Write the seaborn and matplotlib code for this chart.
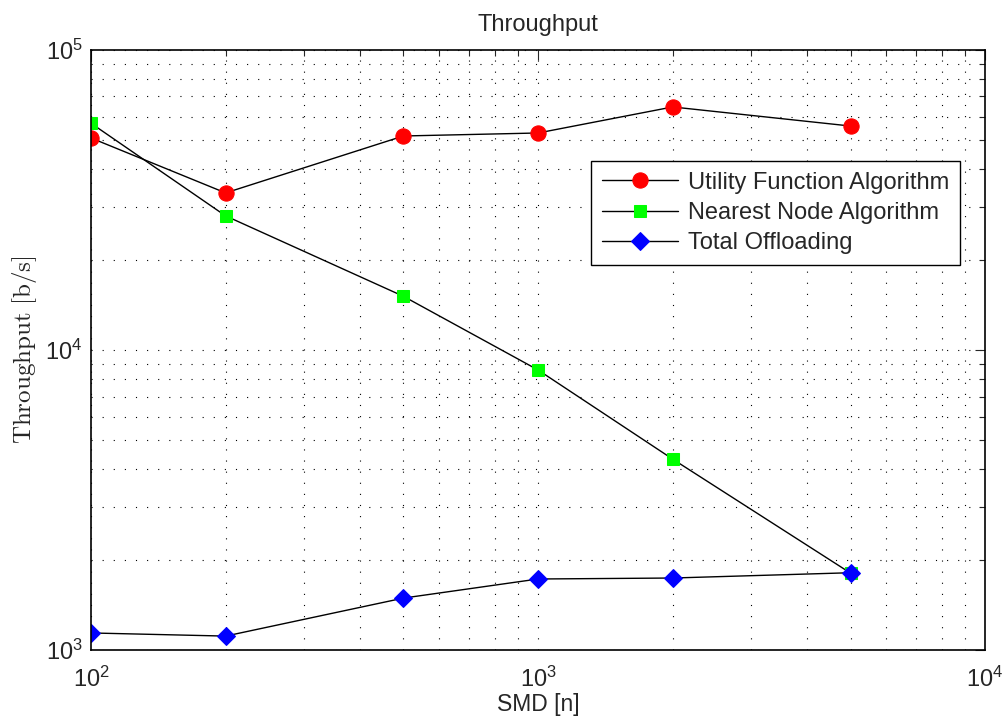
import matplotlib
matplotlib.use("Agg")
import matplotlib.pyplot as plt
import seaborn as sns
import pandas as pd

# Данные
smd = [100, 200, 500, 1000, 2000, 5000]
utility = [50900, 33400, 51700, 52900, 64600, 55800]
nearest = [57000, 28000, 15100, 8580, 4330, 1805]
total = [1140, 1113, 1490, 1725, 1738, 1810]

labels = ["Utility Function Algorithm", "Nearest Node Algorithm", "Total Offloading"]
colors = ["#ff0000", "#00ff00", "#0000ff"]
markers = ["o", "s", "D"]
sizes = [11, 8, 9]

sns.set_style("white")
plt.rcParams['font.family'] = ['Liberation Sans', 'DejaVu Sans']
plt.rcParams['mathtext.fontset'] = 'custom'
plt.rcParams['mathtext.rm'] = 'Liberation Sans'

fig = plt.figure(figsize=(10.06, 7.25), dpi=100)
ax = fig.add_axes([0.0905, 0.1034, 0.8887, 0.8276])

for vals, lab, col, mk, ms in zip([utility, nearest, total], labels, colors, markers, sizes):
    df = pd.DataFrame({"smd": smd, "thr": vals})
    sns.lineplot(data=df, x="smd", y="thr", ax=ax, color="black", linewidth=1.0,
                 marker=mk, markersize=ms, markerfacecolor=col, markeredgecolor=col,
                 label=lab)

ax.set_xscale("log")
ax.set_yscale("log")
ax.set_xlim(1e2, 1e4)
ax.set_ylim(1e3, 1e5)

ax.grid(True, which="both", color="black", linestyle=(0, (1, 9)), linewidth=0.8)
ax.tick_params(which="both", direction="in", top=True, right=True, labelsize=17)
ax.tick_params(axis="x", pad=12)
ax.tick_params(axis="y", pad=6)
ax.tick_params(which="major", length=7, width=0.8)
ax.tick_params(which="minor", length=4, width=0.8)
for sp in ax.spines.values():
    sp.set_color("black")
    sp.set_linewidth(1.2)

ax.set_title("Throughput", fontsize=17, pad=14)
ax.set_xlabel("SMD [n]", fontsize=16.5, labelpad=1)
ax.set_ylabel(r"$\mathrm{Throughput\ [b/s]}$", fontsize=18, math_fontfamily="cm", labelpad=5)

leg = ax.legend(loc="upper right", bbox_to_anchor=(0.972, 0.815), borderaxespad=0,
                fontsize=17, frameon=True, fancybox=False, edgecolor="black",
                framealpha=1, handlelength=3.2, handletextpad=0.45,
                borderpad=0.45, labelspacing=0.35)
leg.get_frame().set_linewidth(1.0)

fig.savefig("out.png", dpi=100)
plt.close()
